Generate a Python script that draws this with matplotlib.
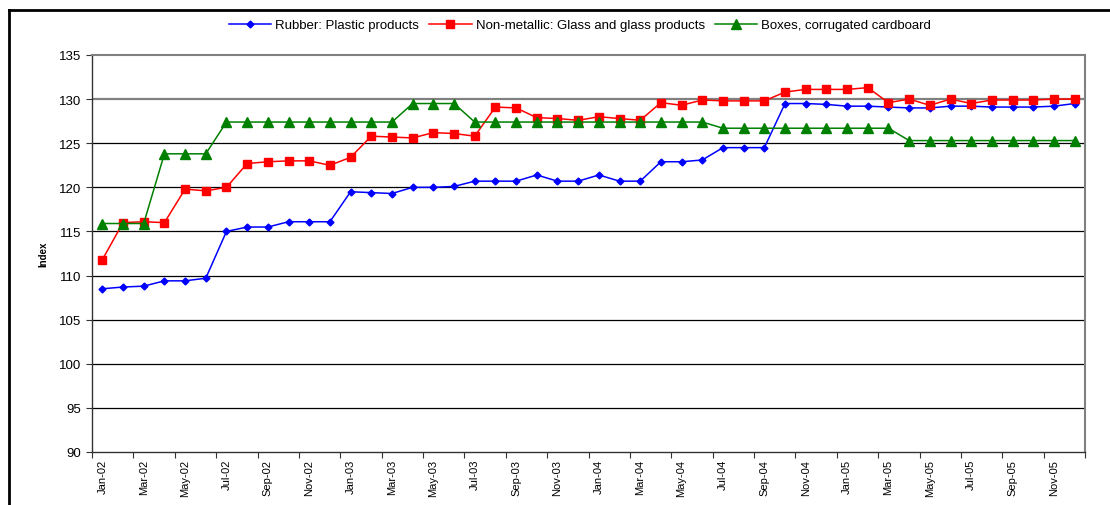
import matplotlib.pyplot as plt
from matplotlib.lines import Line2D

plt.rcParams['font.family'] = ['Liberation Sans', 'DejaVu Sans']

MONTHS = ['Jan', 'Feb', 'Mar', 'Apr', 'May', 'Jun', 'Jul', 'Aug', 'Sep', 'Oct', 'Nov', 'Dec']
YEARS = ['02', '03', '04', '05']
labels = [m + '-' + y for y in YEARS for m in MONTHS]

rubber = [108.5, 108.7, 108.8, 109.4, 109.4, 109.7, 115.0, 115.5, 115.5, 116.1, 116.1, 116.1,
          119.5, 119.4, 119.3, 120.0, 120.0, 120.1, 120.7, 120.7, 120.7, 121.4, 120.7, 120.7,
          121.4, 120.7, 120.7, 122.9, 122.9, 123.1, 124.5, 124.5, 124.5, 129.5, 129.5, 129.4,
          129.2, 129.2, 129.1, 129.0, 129.0, 129.2, 129.2, 129.1, 129.1, 129.1, 129.2, 129.5]
glass = [111.8, 116.0, 116.1, 116.0, 119.8, 119.6, 120.0, 122.7, 122.9, 123.0, 123.0, 122.5,
         123.4, 125.8, 125.7, 125.6, 126.2, 126.1, 125.8, 129.1, 129.0, 127.9, 127.8, 127.6,
         128.0, 127.8, 127.6, 129.6, 129.3, 129.9, 129.8, 129.8, 129.8, 130.8, 131.1, 131.1,
         131.1, 131.3, 129.6, 130.0, 129.3, 130.0, 129.5, 129.9, 129.9, 129.9, 130.0, 130.0]
boxes = [115.9, 115.9, 115.9, 123.8, 123.8, 123.8, 127.4, 127.4, 127.4, 127.4, 127.4, 127.4,
         127.4, 127.4, 127.4, 129.5, 129.5, 129.5, 127.4, 127.4, 127.4, 127.4, 127.4, 127.4,
         127.4, 127.4, 127.4, 127.4, 127.4, 127.4, 126.7, 126.7, 126.7, 126.7, 126.7, 126.7,
         126.7, 126.7, 126.7, 125.3, 125.3, 125.3, 125.3, 125.3, 125.3, 125.3, 125.3, 125.3]

fig = plt.figure(figsize=(11.1, 5.06), dpi=100)
ax = fig.add_axes([92 / 1110, 1 - 453 / 506, (1085 - 92) / 1110, (453 - 56) / 506])

x = list(range(len(labels)))
ax.plot(x, rubber, color='#0000FF', marker='D', markersize=3.5, linewidth=1.1,
        label='Rubber: Plastic products', zorder=3)
ax.plot(x, glass, color='#FF0000', marker='s', markersize=6, linewidth=1.1,
        label='Non-metallic: Glass and glass products', zorder=3)
ax.plot(x, boxes, color='#008000', marker='^', markersize=6.5, linewidth=1.1,
        label='Boxes, corrugated cardboard', zorder=3)

ax.set_ylim(90, 135)
ax.set_xlim(-0.5, len(labels) - 0.5)
ax.set_yticks(range(90, 136, 5))
for v in range(95, 135, 5):
    ax.axhline(v, color='#808080' if v == 130 else '#000000',
               linewidth=1.6 if v == 130 else 0.9, zorder=1)

ax.set_xticks([i - 0.5 for i in range(0, len(labels) + 1, 2)])
ax.set_xticklabels([])
ax.set_xticks(x[::2], minor=True)
ax.set_xticklabels(labels[::2], minor=True, rotation=90, fontsize=8)
ax.tick_params(axis='x', which='minor', length=0, pad=5)
ax.tick_params(axis='x', which='major', length=4, direction='out', color='#333333')
ax.tick_params(axis='y', length=4, direction='out', labelsize=9.5, color='#333333')

for side in ['top', 'right']:
    ax.spines[side].set_color('#808080')
    ax.spines[side].set_linewidth(1.5)
for side in ['left', 'bottom']:
    ax.spines[side].set_color('#333333')
    ax.spines[side].set_linewidth(1.0)

ax.set_ylabel('Index', fontsize=7, fontweight='bold', labelpad=8)

fig.legend(loc='center', bbox_to_anchor=(580 / 1110, 1 - 26 / 506), ncol=3, frameon=False,
           fontsize=9.5, handlelength=3.2, columnspacing=0.8, handletextpad=0.3)

fig.add_artist(Line2D([9 / 1110, 9 / 1110], [0, 1 - 11 / 506], color='black', linewidth=2,
                      transform=fig.transFigure))
fig.add_artist(Line2D([9 / 1110, 1], [1 - 11 / 506, 1 - 11 / 506], color='black', linewidth=2,
                      transform=fig.transFigure))

fig.savefig('out.png', dpi=100)
